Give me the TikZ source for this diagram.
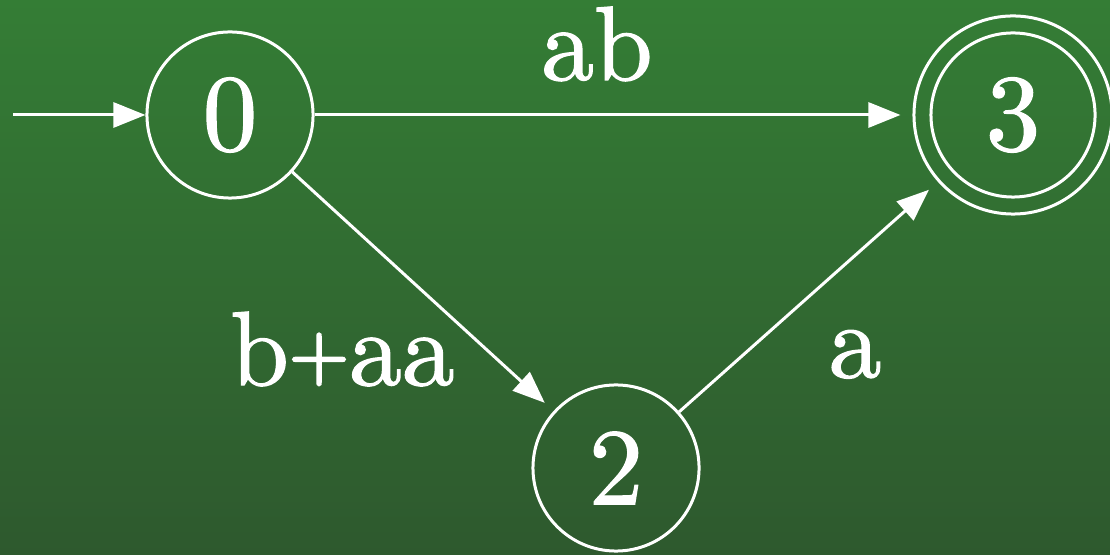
\documentclass[tikz,border=0pt]{standalone}
\usepackage{fontspec}
\usetikzlibrary{arrows.meta, positioning}
\newfontfamily\dfafont{lmroman10-regular}[Extension=.otf, FakeBold=1.2]
\newfontfamily\plusfont{lmroman10-regular}[Extension=.otf, FakeBold=3]
\definecolor{bgtop}{RGB}{52,125,53}
\definecolor{bgbottom}{RGB}{46,89,46}
\begin{document}
\begin{tikzpicture}[
x=0.01cm, y=0.01cm,
state/.style={draw=white, circle, line width=0.03cm, minimum size=1.66cm, inner sep=0pt, text=white, font=\dfafont\fontsize{31}{31}\selectfont},
accepting/.style={minimum size=1.98cm, path picture={\draw[white, line width=0.03cm] (path picture bounding box.center) circle (0.82cm);}},
trans/.style={draw=white, line width=0.03cm, -{Triangle[length=0.32cm, width=0.25cm]}, shorten >=0.12cm},
lbl/.style={text=white, inner sep=0pt, font=\dfafont\fontsize{30}{30}\selectfont}
]

\useasboundingbox (0,0) rectangle (1110,555);
\shade[top color=bgtop, bottom color=bgbottom] (0,0) rectangle (1110,555);

\node[state] (q0) at (230,440) {0};
\node[state] (q2) at (616,87) {2};
\node[state, accepting] (q3) at (1013,440) {3};
\coordinate (start) at (13,440);

\draw[trans, shorten >=0cm] (start) -- (q0);
\draw[trans] (q0) -- node[lbl, xshift=-0.165cm, yshift=0.71cm] (lab) {ab} (q3);
\draw[trans] (q0) -- node[lbl, xshift=-0.805cm, yshift=-0.575cm] (lbaa) {b\raisebox{1.8pt}{\plusfont\fontsize{22}{22}\selectfont +}aa} (q2);
\draw[trans] (q2) -- node[lbl, xshift=0.465cm, yshift=-0.575cm] (la) {a} (q3);

\end{tikzpicture}
\end{document}
